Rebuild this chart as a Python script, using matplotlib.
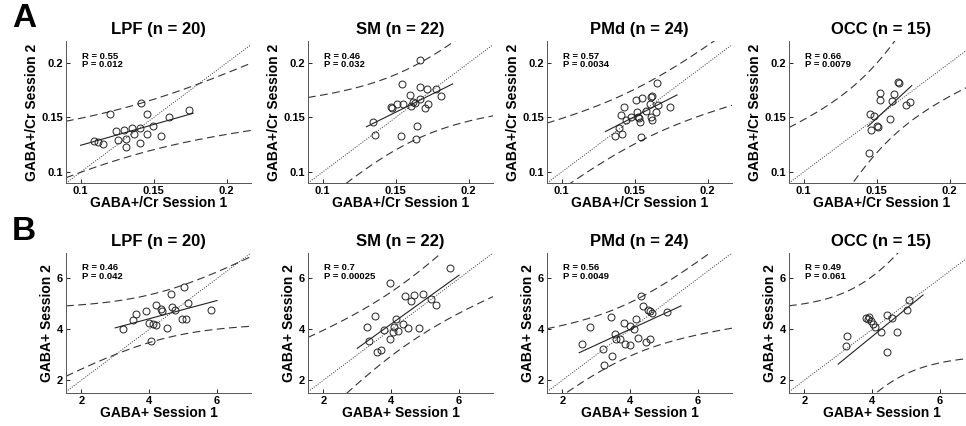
import numpy as np
import matplotlib
matplotlib.use("Agg")
import matplotlib.pyplot as plt

plt.rcParams['font.family'] = ['Liberation Sans', 'DejaVu Sans']
plt.rcParams['font.weight'] = 'bold'

# ---------------- data ----------------
titles = ["LPF (n = 20)", "SM (n = 22)", "PMd (n = 24)", "OCC (n = 15)"]

# Row A: GABA+/Cr
A_lpf_x = [0.120, 0.1415, 0.1456, 0.1608, 0.1744, 0.1093, 0.1116, 0.1154, 0.1245, 0.1297,
           0.1354, 0.1404, 0.1365, 0.1313, 0.1256, 0.1313, 0.1404, 0.1454, 0.1494, 0.1551]
A_lpf_y = [0.1528, 0.1635, 0.1528, 0.1506, 0.1567, 0.1285, 0.1276, 0.1255, 0.1377, 0.1383,
           0.1399, 0.1408, 0.1347, 0.1307, 0.1291, 0.1230, 0.1270, 0.1347, 0.1420, 0.1331]
A_sm_x = [0.1345, 0.1356, 0.1468, 0.1475, 0.1511, 0.1546, 0.1553, 0.1539, 0.1600, 0.1607, 0.1619,
          0.1630, 0.1644, 0.1637, 0.1669, 0.1669, 0.1669, 0.1699, 0.1717, 0.1721, 0.1774, 0.1808]
A_sm_y = [0.1454, 0.1341, 0.1598, 0.1588, 0.1619, 0.1805, 0.1622, 0.1329, 0.1704, 0.1604, 0.1637,
          0.1628, 0.1421, 0.1305, 0.2024, 0.1780, 0.1668, 0.1588, 0.1765, 0.1622, 0.1756, 0.1695]
A_pmd_x = [0.1364, 0.1391, 0.1405, 0.1414, 0.1425, 0.1439, 0.1473, 0.1507, 0.1514, 0.1523, 0.1527, 0.1536,
           0.1541, 0.1552, 0.1575, 0.1602, 0.1613, 0.1618, 0.1613, 0.1620, 0.1643, 0.1654, 0.1658, 0.1740]
A_pmd_y = [0.1331, 0.1408, 0.1522, 0.1352, 0.1598, 0.1475, 0.1500, 0.1663, 0.1546, 0.1506, 0.1491, 0.1460,
           0.1325, 0.1675, 0.1562, 0.1623, 0.1685, 0.1700, 0.1500, 0.1475, 0.1546, 0.1814, 0.1617, 0.1592]
A_occ_x = [0.1447, 0.1454, 0.1458, 0.1481, 0.1505, 0.1509, 0.1523, 0.1525, 0.1588, 0.1604,
           0.1616, 0.1646, 0.1653, 0.1704, 0.1727]
A_occ_y = [0.1171, 0.1528, 0.1386, 0.1515, 0.1420, 0.1411, 0.1728, 0.1657, 0.1488, 0.1651,
           0.1712, 0.1829, 0.1814, 0.1614, 0.1645]

# Row B: GABA+
B_lpf_x = [3.243, 3.538, 3.607, 3.912, 3.990, 4.108, 4.197, 4.206, 4.059, 4.354,
           4.364, 4.521, 4.639, 4.678, 4.747, 4.963, 5.012, 5.091, 5.130, 5.818]
B_lpf_y = [4.026, 4.362, 4.608, 4.738, 4.233, 4.194, 4.168, 4.958, 3.534, 4.803,
           4.725, 4.065, 5.385, 4.867, 4.777, 4.388, 5.683, 4.414, 5.036, 4.777]
B_sm_x = [3.293, 3.343, 3.532, 3.572, 3.711, 3.791, 3.960, 3.980, 4.050, 4.090, 4.139,
          4.189, 4.358, 4.408, 4.488, 4.587, 4.667, 4.826, 4.925, 5.164, 5.313, 5.731]
B_sm_y = [4.078, 3.560, 4.544, 3.094, 3.184, 3.974, 5.812, 3.638, 3.909, 4.078, 4.388,
          3.935, 4.194, 5.294, 4.065, 5.100, 5.359, 4.065, 5.398, 5.204, 4.971, 6.395]
B_pmd_x = [2.591, 2.809, 3.206, 3.216, 3.434, 3.464, 3.553, 3.583, 3.702, 3.831, 3.851, 4.000,
           4.000, 4.099, 4.179, 4.228, 4.328, 4.375, 4.480, 4.515, 4.570, 4.580, 4.634, 5.072]
B_pmd_y = [3.442, 4.091, 3.247, 2.597, 4.494, 2.961, 3.805, 3.610, 3.636, 4.260, 3.442, 4.130,
           3.377, 4.000, 4.390, 3.649, 5.325, 4.909, 3.510, 4.779, 3.610, 4.720, 4.660, 4.675]
B_occ_x = [3.23, 3.27, 3.82, 3.92, 3.98, 4.02, 4.07, 4.26, 4.45, 4.45, 4.58, 4.73, 5.02, 5.08, 3.88]
B_occ_y = [3.351, 3.753, 4.442, 4.468, 4.312, 4.221, 4.078, 3.896, 4.545, 3.117, 4.429, 3.896, 4.766, 5.169, 4.390]

# Fit statistics per panel
A_R = ["0.55", "0.46", "0.57", "0.66"]
A_P = ["0.012", "0.032", "0.0034", "0.0079"]
A_intercept = [0.0864, 0.0552, 0.0482, -0.0378]
A_slope = [0.381, 0.664, 0.684, 1.247]
A_fit_lo = [0.100, 0.130, 0.130, 0.144]
A_fit_hi = [0.177, 0.189, 0.179, 0.174]
# prediction band: centre line (intercept, slope), centre x, half-width at centre, spread
A_band_a = [0.0864, 0.0552, 0.0482, -0.0664]
A_band_b = [0.381, 0.664, 0.684, 1.5]
A_band_xc = [0.137, 0.160, 0.153, 0.150]
A_band_w = [0.0228, 0.034, 0.025, 0.041]
A_band_k = [0.26, 0.587, 0.39, 0.99]

B_R = ["0.46", "0.7", "0.56", "0.49"]
B_P = ["0.042", "0.00025", "0.0049", "0.061"]
B_intercept = [2.985, 0.380, 1.552, -0.622]
B_slope = [0.358, 0.958, 0.613, 1.086]
B_fit_lo = [3.0, 3.0, 2.5, 3.0]
B_fit_hi = [6.0, 6.0, 5.5, 5.5]
B_band_a = [2.985, 0.380, 1.552, -0.622]
B_band_b = [0.358, 0.958, 0.613, 1.086]
B_band_xc = [4.3, 4.3, 3.9, 4.15]
B_band_w = [0.93, 1.25, 1.05, 2.35]
B_band_k = [0.372, 0.48, 0.47, 1.18]

A_xs = [A_lpf_x, A_sm_x, A_pmd_x, A_occ_x]
A_ys = [A_lpf_y, A_sm_y, A_pmd_y, A_occ_y]
B_xs = [B_lpf_x, B_sm_x, B_pmd_x, B_occ_x]
B_ys = [B_lpf_y, B_sm_y, B_pmd_y, B_occ_y]

# ---------------- figure ----------------
W, H = 966, 426
fig = plt.figure(figsize=(W / 100, H / 100), dpi=100)

lefts = [66, 308, 547, 789]
ax_w = 185
rows = [
    dict(top=41, bottom=183, xs=A_xs, ys=A_ys, R=A_R, P=A_P, a=A_intercept, b=A_slope,
         lo=A_fit_lo, hi=A_fit_hi, ba=A_band_a, bb=A_band_b, xc=A_band_xc, w=A_band_w, k=A_band_k,
         lim=(0.09, 0.2166), ylim=(0.09, 0.22), ticks=[0.1, 0.15, 0.2], tlabels=["0.1", "0.15", "0.2"],
         xlabel="GABA+/Cr Session 1", ylabel="GABA+/Cr Session 2"),
    dict(top=253, bottom=393, xs=B_xs, ys=B_ys, R=B_R, P=B_P, a=B_intercept, b=B_slope,
         lo=B_fit_lo, hi=B_fit_hi, ba=B_band_a, bb=B_band_b, xc=B_band_xc, w=B_band_w, k=B_band_k,
         lim=(1.55, 7.0), ylim=(1.5, 7.0), ticks=[2, 4, 6], tlabels=["2", "4", "6"],
         xlabel="GABA+ Session 1", ylabel="GABA+ Session 2"),
]

for r in rows:
    for i in range(4):
        ax = fig.add_axes([lefts[i] / W, 1 - r['bottom'] / H, ax_w / W, (r['bottom'] - r['top']) / H])
        x0, x1 = r['lim']
        xx = np.linspace(x0, x1, 300)
        # identity line
        ax.plot(xx, xx, linestyle=(0, (1, 1.5)), color='#333333', lw=0.7)
        # prediction band
        centre = r['ba'][i] + r['bb'][i] * xx
        half = np.sqrt(r['w'][i] ** 2 + (r['k'][i] * (xx - r['xc'][i])) ** 2)
        ax.plot(xx, centre + half, linestyle=(0, (7, 4)), color='#333333', lw=0.8)
        ax.plot(xx, centre - half, linestyle=(0, (7, 4)), color='#333333', lw=0.8)
        # fit line
        fx = np.array([r['lo'][i], r['hi'][i]])
        ax.plot(fx, r['a'][i] + r['b'][i] * fx, color='#222222', lw=0.8)
        # points
        ax.plot(r['xs'][i], r['ys'][i], linestyle='none', marker='o', ms=5, mfc='none',
                mec='#222222', mew=0.7)
        ax.set_xlim(r['lim'])
        ax.set_ylim(r['ylim'])
        ax.set_xticks(r['ticks'])
        ax.set_xticklabels(r['tlabels'])
        ax.set_yticks(r['ticks'])
        ax.set_yticklabels(r['tlabels'])
        ax.tick_params(direction='in', length=3, width=0.6, labelsize=8, pad=2)
        for lab in ax.get_xticklabels() + ax.get_yticklabels():
            lab.set_fontweight('bold')
        for s in ['top', 'right']:
            ax.spines[s].set_visible(False)
        for s in ['left', 'bottom']:
            ax.spines[s].set_linewidth(0.7)
            ax.spines[s].set_color('#555555')
        ax.set_xlabel(r['xlabel'], fontsize=10, fontweight='bold', labelpad=0)
        ax.set_ylabel(r['ylabel'], fontsize=10, fontweight='bold', labelpad=2)
        ax.set_title(titles[i], fontsize=12, fontweight='bold', pad=5)
        ax.text(0.085, 0.925, "R = %s\nP = %s" % (r['R'][i], r['P'][i]), transform=ax.transAxes,
                va='top', ha='left', fontsize=6.8, fontweight='bold', linespacing=0.95)

fig.text(12 / W, 1 - 3 / H, "A", fontsize=24, fontweight='bold', va='top', ha='left')
fig.text(12 / W, 1 - 216 / H, "B", fontsize=24, fontweight='bold', va='top', ha='left')

fig.savefig("out.png", dpi=100)
